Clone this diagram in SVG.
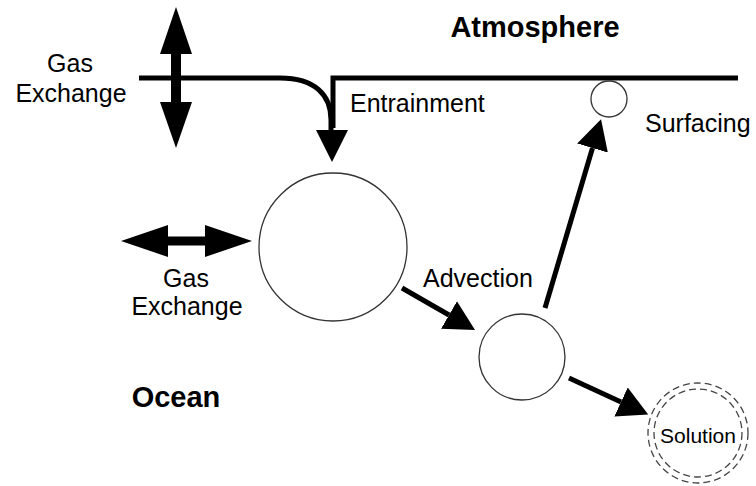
<svg xmlns="http://www.w3.org/2000/svg" width="756" height="486" viewBox="0 0 756 486">
<defs>
<style>
.t{font-family:"Liberation Sans",Arial,sans-serif;font-size:25px;fill:#000}
.b{font-family:"Liberation Sans",Arial,sans-serif;font-size:29px;font-weight:bold;fill:#000}
.s{font-family:"Liberation Sans",Arial,sans-serif;font-size:21px;fill:#000}
.bub{fill:#fff;stroke:#333;stroke-width:1.3}
.dash{fill:none;stroke:#444;stroke-width:1.3;stroke-dasharray:7 4}
.ln{fill:none;stroke:#000;stroke-width:5}
.fl{fill:#000;stroke:none}
</style>
<marker id="ah" markerUnits="userSpaceOnUse" markerWidth="30" markerHeight="32" viewBox="0 0 30 32" refX="0" refY="16" orient="auto">
<path d="M0,0 L30,16 L0,32 Z" fill="#000"/>
</marker>
</defs>
<rect width="756" height="486" fill="#fff"/>

<g id="surface">
<path class="ln" d="M139,78 H280 C315,78 331,95 331,120 V131"/>
<path class="ln" d="M333,128 V78 H738"/>
</g>

<g id="labels">
<text class="b" x="535" y="37" text-anchor="middle">Atmosphere</text>
<text class="b" x="176" y="407" text-anchor="middle">Ocean</text>
</g>

<g id="gas-exchange-top">
<text class="t" x="70" y="72" text-anchor="middle">Gas</text>
<text class="t" x="71" y="102" text-anchor="middle">Exchange</text>
</g>

<g id="gas-exchange-side">
<text class="t" x="186" y="287" text-anchor="middle">Gas</text>
<text class="t" x="187" y="315" text-anchor="middle">Exchange</text>
</g>

<g id="entrainment-label"><text class="t" x="350" y="112">Entrainment</text></g>
<g id="surfacing-label"><text class="t" x="645" y="132">Surfacing</text></g>
<g id="advection-label"><text class="t" x="423" y="287">Advection</text></g>

<g id="bubble-large"><circle class="bub" cx="333" cy="247" r="74"/></g>
<g id="bubble-medium"><circle class="bub" cx="522" cy="357" r="43"/></g>
<g id="bubble-small"><circle class="bub" cx="609" cy="99" r="18"/></g>
<g id="solution">
<circle class="dash" cx="698" cy="433" r="50"/>
<circle class="dash" cx="698" cy="433" r="44"/>
<text class="s" x="698" y="443" text-anchor="middle">Solution</text>
</g>

<g id="connectors">
<path class="fl" d="M176,7 L192,54 L181,54 L181,102 L192,102 L176,148 L160,102 L171,102 L171,54 L160,54 Z"/>
<path class="fl" d="M121,241 L168,225 L168,236.5 L205,236.5 L205,225 L252,241 L205,257 L205,245.5 L168,245.5 L168,257 Z"/>
<path class="fl" d="M316,130 L348,130 L332,162 Z"/>
<line class="ln" x1="402" y1="288" x2="449" y2="315" marker-end="url(#ah)"/>
<line class="ln" x1="545" y1="308" x2="592.5" y2="148" marker-end="url(#ah)"/>
<line class="ln" x1="569" y1="378" x2="621" y2="402" marker-end="url(#ah)"/>
</g>
</svg>
